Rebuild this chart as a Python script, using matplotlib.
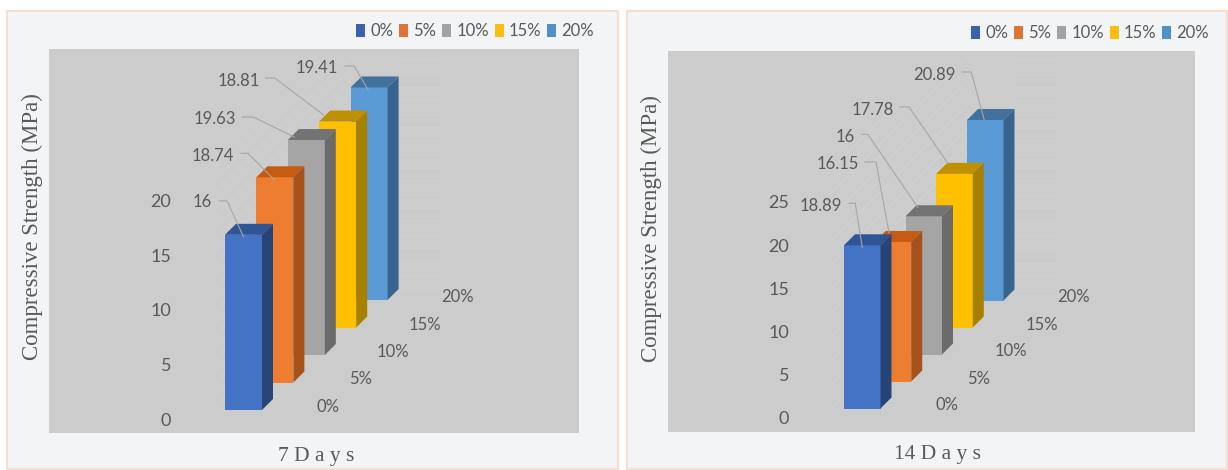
import matplotlib
matplotlib.use('Agg')
import matplotlib.pyplot as plt
from matplotlib.patches import Rectangle, Polygon, Patch
from matplotlib.transforms import ScaledTranslation

W, H = 1228, 470

series = ['0%', '5%', '10%', '15%', '20%']
values_7 = [16, 18.74, 19.63, 18.81, 19.41]
values_14 = [18.89, 16.15, 16, 17.78, 20.89]
ticks_7 = [0, 5, 10, 15, 20]
ticks_14 = [0, 5, 10, 15, 20, 25]

front = ['#4472c4', '#ed7d31', '#a5a5a5', '#ffc000', '#5b9bd5']
side = ['#264478', '#a5521c', '#6b6b6b', '#a88000', '#37658f']
top = ['#2f5597', '#c55a11', '#737373', '#bf9000', '#41719c']
legend_col = ['#3a62ad', '#dd7436', '#a3a3a3', '#fbbd12', '#4f90c9']
TEXT = '#595959'

# label_dx, label_dy, start_dx, start_dy, knee_dx, end_dx, end_dy (pixels from bar top)
callouts_7 = [(-41, -33, -24.5, -34, -16.5, 0, 2),
              (-62, -21, -34, -24, -27, 0, 3),
              (-92, -21, -64, -23, -53, -12, -3),
              (-99, -40.5, -72, -43.5, -63, -14, -6.5),
              (-52.5, -19.5, -24, -21.5, -15, -1, 2.5)]
callouts_14 = [(-41, -39, -13, -42, -7, 0, 2),
               (-55, -78, -28, -80, -17, -4, -9),
               (-79, -79, -62, -82, -56, -6, -9),
               (-81.5, -64, -54.5, -67, -45.5, -7, -11),
               (-51, -45, -23, -48, -14, -1, 0)]

fig = plt.figure(figsize=(W / 100, H / 100), dpi=100, facecolor='white')


def frame(x0, y0, x1, y1):
    fig.add_artist(Rectangle((x0 / W, 1 - y1 / H), (x1 - x0) / W, (y1 - y0) / H,
                             transform=fig.transFigure, facecolor='#f2f4f6',
                             edgecolor='#f6dfcf', linewidth=1.5, zorder=-5))


def draw_panel(box, border, values, ticks, callouts, title, title_xy, ylabel_x,
               base_px, bar_x, bar_w, step_x, step_y, per_unit, tick_right, legend_right):
    frame(*border)
    x0, y0, x1, y1 = box
    ax = fig.add_axes([x0 / W, 1 - y1 / H, (x1 - x0) / W, (y1 - y0) / H])
    ax.set_facecolor('#cdcccd')
    for s in ax.spines.values():
        s.set_visible(False)

    # x runs in bar widths from the first bar, y in MPa
    px_x = 1 / bar_w
    px_y = 1 / per_unit
    ax.set_xlim((x0 - bar_x) * px_x, (x1 - bar_x) * px_x)
    ax.set_ylim((base_px - y1) * px_y, (base_px - y0) * px_y)
    ax.set_xticks([])
    ax.set_yticks(ticks)
    ax.set_yticklabels([str(t) for t in ticks], family='Lato', fontsize=13, color=TEXT)
    # pad is in points, the box in pixels
    ax.tick_params(axis='y', length=0, pad=-(tick_right - x0) * 0.72)
    shift = ScaledTranslation(0, -9.5 / 100, fig.dpi_scale_trans)
    for lab in ax.get_yticklabels():
        lab.set_transform(lab.get_transform() + shift)

    sx = step_x * px_x
    sy = step_y * px_y
    dx = 11 * px_x
    dy = 11 * px_y

    # faint lines on the back wall
    wall_x = 4 * sx + 1 + dx
    wall_base = 4 * sy + dy
    for i in range(18):
        y = wall_base + i * 13.5 * px_y
        ax.plot([wall_x, wall_x + 40 * px_x], [y, y], color='#d2d1d2', lw=0.6, zorder=1)

    # faint hatch on the side wall
    wall_h = 250 * px_y
    wall = Polygon([(-0.4, -0.4 * bar_w * px_y), (4 * sx, 4 * sy), (4 * sx, 4 * sy + wall_h), (-0.4, wall_h)],
                   facecolor='none', edgecolor='none', zorder=1)
    ax.add_patch(wall)
    for k in range(-40, 16):
        hx0 = k * 12 * px_x
        line, = ax.plot([hx0, hx0 + 400 * px_x], [0, 400 * px_y], color='#d3d2d3', lw=0.6, zorder=1,
                        scalex=False, scaley=False)
        line.set_clip_path(wall)

    for i in reversed(range(len(series))):
        xl = i * sx
        xr = xl + 1
        yb = i * sy
        yt = yb + values[i]
        ax.add_patch(Rectangle((xl, yb), 1, values[i], facecolor=front[i], edgecolor='none', zorder=2 + 5 - i))
        ax.add_patch(Polygon([(xr, yb), (xr + dx, yb + dy), (xr + dx, yt + dy), (xr, yt)],
                             facecolor=side[i], edgecolor='none', zorder=2 + 5 - i))
        ax.add_patch(Polygon([(xl, yt), (xl + dx, yt + dy), (xr + dx, yt + dy), (xr, yt)],
                             facecolor=top[i], edgecolor='none', zorder=2 + 5 - i))
        ax.text(xl + 103 * px_x + i * 1 * px_x, yb + 3 * px_y, series[i], family='Lato', fontsize=12,
                color=TEXT, ha='center', va='center', zorder=9)

    for i, c in enumerate(callouts):
        ax_x = i * sx + 0.5
        ax_y = i * sy + values[i]
        ldx, ldy, sdx, sdy, kdx, edx, edy = c
        ax.plot([ax_x + sdx * px_x, ax_x + kdx * px_x, ax_x + edx * px_x],
                [ax_y - sdy * px_y, ax_y - sdy * px_y, ax_y - edy * px_y],
                color='#a6a6a6', lw=0.8, zorder=10)
        ax.text(ax_x + ldx * px_x, ax_y - ldy * px_y, str(values[i]), family='Lato', fontsize=12,
                color=TEXT, ha='center', va='center', zorder=11)

    fig.text(title_xy[0] / W, 1 - title_xy[1] / H, title, family='Liberation Serif', fontsize=15.5,
             color=TEXT, ha='center', va='center')
    fig.text(ylabel_x / W, 1 - (y0 + 178) / H, 'Compressive Strength (MPa)', family='Liberation Serif',
             fontsize=16.5, color=TEXT, rotation=90, ha='center', va='center')

    handles = [Patch(facecolor=legend_col[i], label=series[i]) for i in range(len(series))]
    fig.legend(handles=handles, ncol=5, loc='center right', frameon=False,
               bbox_to_anchor=(legend_right / W, 1 - (y0 - 18) / H),
               prop={'family': 'Lato', 'size': 12}, labelcolor=TEXT,
               handlelength=0.55, handleheight=0.8, handletextpad=0.3, columnspacing=0.35,
               borderpad=0, borderaxespad=0)


draw_panel((49, 49, 579, 433), (7, 11, 618, 469), values_7, ticks_7, callouts_7,
           '7 D a y s', (316, 456), 32, 410, 225, 37, 31.4, 27.5, 10.95, 171, 594)
draw_panel((668, 51, 1195, 432), (627, 11, 1227, 469), values_14, ticks_14, callouts_14,
           '14 D a y s', (938, 454), 651, 408.5, 844, 36.5, 30.75, 27, 8.64, 789, 1209)

fig.savefig('out.png', dpi=100)
